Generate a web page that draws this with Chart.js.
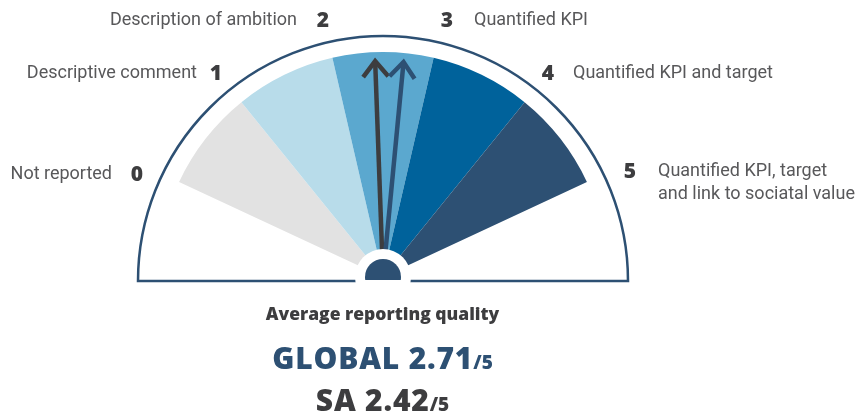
<!DOCTYPE html>
<html>
<head>
<meta charset="utf-8">
<script src="https://cdn.jsdelivr.net/npm/chart.js@4.4.1/dist/chart.umd.min.js"></script>
<style>
  html, body { margin: 0; padding: 0; background: #fff; }
  #wrap { position: relative; width: 867px; height: 419px; overflow: hidden; font-family: Roboto, "Open Sans", sans-serif; }
  #wrap canvas { position: absolute; left: 0; top: 0; }
  .num { position: absolute; transform: translate(-50%, -50%); font-family: "Open Sans", sans-serif; font-size: 21px; font-weight: 800; color: #3d3d3f; line-height: 24px; }
  .name { position: absolute; font-size: 18px; font-weight: 400; color: #58585a; line-height: 23px; white-space: pre; }
  .caption { position: absolute; left: 0; width: 765px; text-align: center; font-family: "Open Sans", sans-serif; font-weight: 800; white-space: nowrap; }
  .caption small { font-size: 19px; letter-spacing: 0; }
</style>
</head>
<body>
<div id="wrap">
  <canvas id="frame" width="867" height="419"></canvas>
  <canvas id="bands" width="867" height="419"></canvas>
  <canvas id="needles" width="867" height="419"></canvas>
</div>
<script>
// ── Data ────────────────────────────────────────────────────────────────────
const levelNums  = [0, 1, 2, 3, 4, 5];
const levelNames = [
  'Not reported',
  'Descriptive comment',
  'Description of ambition',
  'Quantified KPI',
  'Quantified KPI and target',
  'Quantified KPI, target\nand link to sociatal value'
];
// one wedge per step between two levels
const bandLabels = ['0–1', '1–2', '2–3', '3–4', '4–5'];
const bandValues = [1, 1, 1, 1, 1];

// average reporting quality
const scoreNames  = ['GLOBAL', 'SA'];
const scoreValues = [2.71, 2.42];
const scoreMax    = 5;

// ── Look ────────────────────────────────────────────────────────────────────
const W = 867, H = 419;
const CX = 383, CY = 277;          // dial centre
const FRAME_CY = 281;              // frame baseline
const START = 155, SWEEP = 130;    // level 0 at 155°, level 5 at 25° (ccw from east)
const R_BANDS = 225, R_FRAME = 245, R_NEEDLE = 216;
const NAVY = '#2d5073';
const BAND_COLORS  = ['#e2e2e2', '#b8dcea', '#5ba8cf', '#00629b', '#2d5073'];
const SCORE_COLORS = [NAVY, '#3d3d3f'];

// number position + where the description sits
const LABEL_POS = [
  { x: 137, y: 173, edge: 112, side: 'left'  },
  { x: 216, y: 72,  edge: 197, side: 'left'  },
  { x: 323, y: 19,  edge: 297, side: 'left'  },
  { x: 447, y: 19,  edge: 474, side: 'right' },
  { x: 548, y: 72,  edge: 573, side: 'right' },
  { x: 630, y: 170, edge: 658, side: 'right' }
];

const quiet = { legend: { display: false }, tooltip: { enabled: false } };

// ── Frame: half disc outline ────────────────────────────────────────────────
new Chart(document.getElementById('frame'), {
  type: 'pie',
  data: { labels: ['frame'], datasets: [{
    data: [1], backgroundColor: 'rgba(0,0,0,0)',
    borderColor: NAVY, borderWidth: 2.5, borderJoinStyle: 'miter'
  }]},
  options: {
    responsive: false, animation: false, events: [],
    rotation: -90, circumference: 180, radius: R_FRAME,
    layout: { padding: { left: 0, top: 0, right: W - 2 * CX, bottom: H - 2 * (FRAME_CY - R_FRAME / 2) } },
    plugins: quiet
  }
});

// ── Coloured bands ──────────────────────────────────────────────────────────
new Chart(document.getElementById('bands'), {
  type: 'pie',
  data: { labels: bandLabels, datasets: [{
    data: bandValues, backgroundColor: BAND_COLORS, borderWidth: 0
  }]},
  options: {
    responsive: false, animation: false, events: [],
    rotation: 90 - START, circumference: SWEEP, radius: R_BANDS,
    layout: { padding: { left: 0, top: 0, right: W - 2 * CX, bottom: H - 2 * (CY - R_BANDS / 2) } },
    plugins: quiet
  }
});

// ── Needles + hub ───────────────────────────────────────────────────────────
const step = SWEEP / (levelNums.length - 1);
const angle = v => (START - v * step) * Math.PI / 180;
const polar = (a, r) => ({ x: r * Math.cos(a), y: r * Math.sin(a) });

const needleSets = [];
scoreValues.forEach((v, i) => {
  const a = angle(v);
  const tip = polar(a, R_NEEDLE);
  const barb = s => ({ x: tip.x + 20 * Math.cos(a + Math.PI + s * 0.68),
                       y: tip.y + 20 * Math.sin(a + Math.PI + s * 0.68) });
  const line = { showLine: true, pointRadius: 0, borderWidth: 4.5, borderColor: SCORE_COLORS[i],
                 borderCapStyle: 'butt', borderJoinStyle: 'miter' };
  needleSets.push({ label: scoreNames[i], data: [polar(a, 0), tip], ...line });
  needleSets.push({ label: scoreNames[i] + ' head', data: [barb(1), tip, barb(-1)], ...line });
});

new Chart(document.getElementById('needles'), {
  type: 'scatter',
  data: { datasets: [
    { label: 'hub',  data: [{ x: 0, y: 0 }], pointRadius: 18, pointBackgroundColor: NAVY, pointBorderWidth: 0,
      clip: { left: false, top: false, right: false, bottom: 0 } },
    { label: 'ring', data: [{ x: 0, y: 0 }], pointRadius: 28, pointBackgroundColor: '#fff', pointBorderWidth: 0, clip: false },
    ...needleSets
  ]},
  options: {
    responsive: false, animation: false, events: [],
    layout: { autoPadding: false, padding: { left: 0, top: 0, right: 0, bottom: H - 280 } },
    scales: {
      x: { type: 'linear', bounds: 'data', min: -CX, max: W - CX, display: false },
      y: { type: 'linear', bounds: 'data', min: CY - 280, max: CY, display: false }
    },
    plugins: quiet
  }
});

// ── Level labels ────────────────────────────────────────────────────────────
const wrap = document.getElementById('wrap');
levelNums.forEach((n, i) => {
  const p = LABEL_POS[i];
  const num = document.createElement('div');
  num.className = 'num';
  num.style.left = p.x + 'px';
  num.style.top = p.y + 'px';
  num.textContent = n;
  wrap.appendChild(num);

  const name = document.createElement('div');
  name.className = 'name';
  name.style.top = (p.y - 12) + 'px';
  if (p.side === 'left') { name.style.right = (W - p.edge) + 'px'; name.style.textAlign = 'right'; }
  else name.style.left = p.edge + 'px';
  name.textContent = levelNames[i];
  wrap.appendChild(name);
});

// ── Captions ────────────────────────────────────────────────────────────────
const caption = (html, cy, size, color, spacing) => {
  const d = document.createElement('div');
  d.className = 'caption';
  d.style.top = (cy - size * 0.68) + 'px';
  d.style.lineHeight = (size * 1.3) + 'px';
  d.style.fontSize = size + 'px';
  d.style.letterSpacing = spacing + 'px';
  d.style.color = color;
  d.innerHTML = html;
  wrap.appendChild(d);
};
caption('Average reporting quality', 314, 17.5, '#3d3d3f', 0);
scoreNames.forEach((s, i) => {
  caption(s + ' ' + scoreValues[i].toFixed(2) + '<small>/' + scoreMax + '</small>',
          [358, 400][i], 30, SCORE_COLORS[i], 0.8);
});
</script>
</body>
</html>
